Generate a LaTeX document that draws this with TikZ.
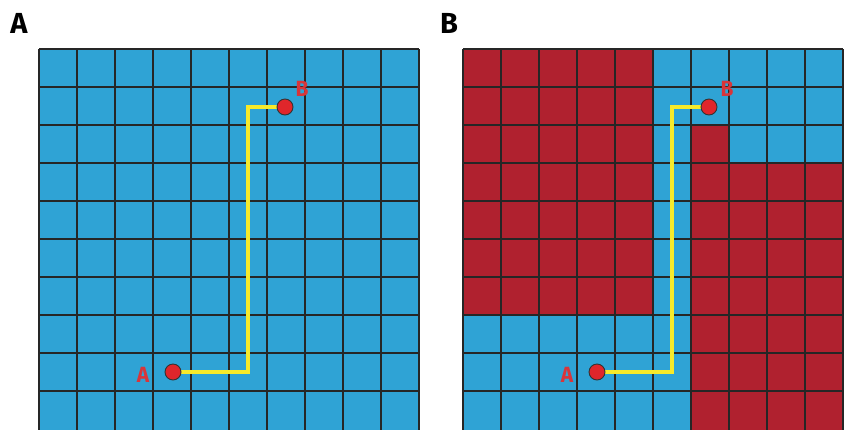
\documentclass[tikz,border=0pt]{standalone}
\usepackage{fontspec}
\setmainfont{Fira Sans}
\newfontfamily\lblfont{Fira Sans}[UprightFont={* Bold}]
\definecolor{cblue}{HTML}{2FA3D5}
\definecolor{cred}{HTML}{B0212F}
\definecolor{dotred}{HTML}{E0262B}
\definecolor{lblred}{HTML}{D8353A}
\definecolor{cyel}{HTML}{F7EA2A}
\pgfdeclarelayer{bg}
\pgfdeclarelayer{mid}
\pgfsetlayers{bg,mid,main}
\tikzset{
  gridline/.style={line width=1.5pt, draw=black!85},
  dotnode/.style={circle, fill=dotred, draw=black!80, line width=0.9pt, minimum size=16pt, inner sep=0pt},
  route/.style={draw=cyel, line width=4pt, line join=miter},
  ptlabel/.style={text=lblred, font=\lblfont\fontsize{22}{22}\selectfont, inner sep=0pt, xscale=0.95},
  panel/.style={text=black, font=\lblfont\fontsize{29}{29}\selectfont, inner sep=0pt}
}
\begin{document}
\begin{tikzpicture}[x=1pt,y=-1pt]
\useasboundingbox (0,0) rectangle (845,429);
\clip (0,0) rectangle (845,429);
\begin{pgfonlayer}{bg}
  % left grid
  \fill[cblue] (39,49) rectangle (419,432);
  \foreach \i in {0,...,10} \draw[gridline] (39+38*\i,49) -- (39+38*\i,432);
  \foreach \j in {0,...,9} \draw[gridline] (39,49+38*\j) -- (419,49+38*\j);
  % right grid
  \fill[cblue] (463,49) rectangle (843,432);
  \fill[cred] (463,49) rectangle (653,315);
  \fill[cred] (691,125) rectangle (729,163);
  \fill[cred] (691,163) rectangle (843,432);
  \foreach \i in {0,...,10} \draw[gridline] (463+38*\i,49) -- (463+38*\i,432);
  \foreach \j in {0,...,9} \draw[gridline] (463,49+38*\j) -- (843,49+38*\j);
\end{pgfonlayer}
% panel labels
\node[panel] (pA) at (19,23) {A};
\node[panel] (pB) at (449,23) {B};
% left panel
\node[dotnode] (a1) at (173,372) {};
\node[dotnode] (b1) at (285,107) {};
\coordinate (c1) at (248,372);
\node[ptlabel] (la1) at (143,375) {A};
\node[ptlabel] (lb1) at (302,89) {B};
% right panel
\node[dotnode] (a2) at (597,372) {};
\node[dotnode] (b2) at (709,107) {};
\coordinate (c2) at (672,372);
\node[ptlabel] (la2) at (567,375) {A};
\node[ptlabel] (lb2) at (727,89) {B};
\begin{pgfonlayer}{mid}
  \draw[route] (a1.center) -- (c1) |- (b1.center);
  \draw[route] (a2.center) -- (c2) |- (b2.center);
\end{pgfonlayer}
\end{tikzpicture}
\end{document}
